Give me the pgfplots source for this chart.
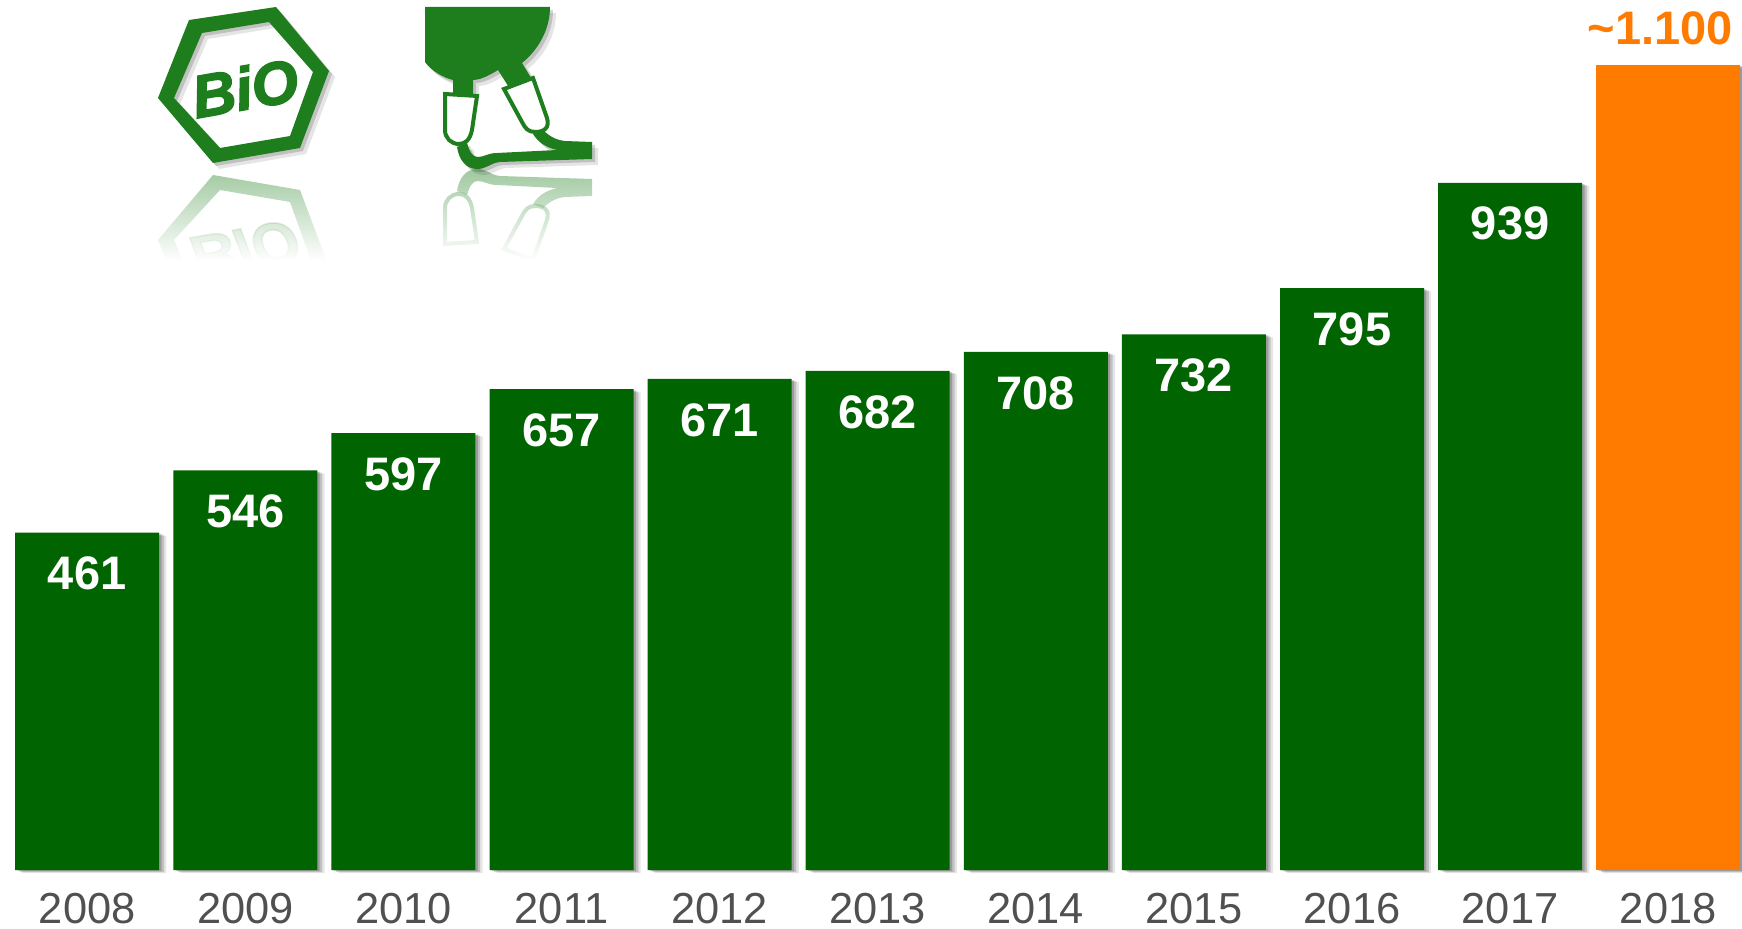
\documentclass[border=0pt]{standalone}
\usepackage{fontspec}
\setmainfont{Liberation Sans}
\newfontfamily\biofont[BoldItalicFeatures={FakeBold=2.5}]{Liberation Sans}
\usepackage{pgfplots}
\usepackage{pgfplotstable}
\pgfplotsset{compat=1.18}
\usetikzlibrary{fadings}
\definecolor{BarGreen}{HTML}{006400}
\definecolor{BarOrange}{HTML}{FF7B00}
\definecolor{IconGreen}{HTML}{1E7E1E}
\definecolor{YearGray}{HTML}{505050}
\tikzfading[name=towhite,top color=transparent!100,bottom color=transparent!0]

\pgfplotstableread{
x y
0 461
1 546
2 597
3 657
4 671
5 682
6 708
7 732
8 795
9 939
}\greenbars
\pgfplotstableread{
x y
10 1100
}\orangebar
\pgfplotstableread{
x y
0 461
1 546
2 597
3 657
4 671
5 682
6 708
7 732
8 795
9 939
10 1100
}\allbars

% icon outlines, in pixels of the reference
\newcommand\hexpath{(189,20)--(276,7)--(329,71)--(300,148)--(213,163)--(158,98)--cycle (202,33)--(269,22)--(313,72)--(290,136)--(220,148)--(174,98)--cycle}
\newcommand\bowlpath{(425,7)--(550,7) .. controls (550,30) and (538,50) .. (522,63)--(531,78)--(510,89)--(498,70) .. controls (485,78) and (478,80) .. (473,80)--(473,96)--(453,96)--(453,80) .. controls (445,78) and (432,72) .. (425,62)--cycle}
\newcommand\footpath{(457,147) .. controls (459,160) and (466,169) .. (477,169) .. controls (487,169) and (490,163) .. (500,162)--(592,159)--(592,142)--(565,141) .. controls (555,140) and (548,135) .. (543,130)--(533,134) .. controls (538,142) and (545,147) .. (557,150)--(497,153) .. controls (488,153) and (484,157) .. (478,157) .. controls (472,157) and (470,152) .. (467,143)--cycle}
\newcommand\cupA{(445,94)--(477,96)--(472,130) .. controls (470,140) and (465,144) .. (459,144) .. controls (451,144) and (445,138) .. (445,130)--cycle}
\newcommand\cupB{(504,89)--(533,78)--(547,118) .. controls (550,128) and (544,132) .. (535,132) .. controls (528,132) and (525,128) .. (522,122)--cycle}

\begin{document}
\begin{tikzpicture}
\useasboundingbox (0,-29pt) rectangle (871pt,435pt);

\begin{scope}[shift={(0,435pt)},x=0.5pt,y=-0.5pt]
  % reflection, faded into white below
  \begin{scope}[shift={(0,338)},yscale=-1,opacity=0.42]
    \fill[even odd rule,IconGreen] \hexpath;
    \fill[IconGreen] \footpath;
    \draw[line width=2pt,draw=IconGreen] \cupA;
    \draw[line width=2pt,draw=IconGreen] \cupB;
    \node[text=IconGreen,rotate=10,font=\fontsize{30}{30}\selectfont\biofont\bfseries\itshape,inner sep=0pt,yscale=-1] at (245,88) {BiO};
  \end{scope}
  \fill[white,path fading=towhite] (130,170) rectangle (620,260);
  \fill[white] (130,260) rectangle (620,345);

  % soft shadow of the icons
  \begin{scope}[shift={(6,6)},opacity=0.10]
    \fill[even odd rule,black] \hexpath;
    \fill[black] \bowlpath;
    \fill[black] \footpath;
  \end{scope}
  \begin{scope}[shift={(3,3)},opacity=0.16]
    \fill[even odd rule,black] \hexpath;
    \fill[black] \bowlpath;
    \fill[black] \footpath;
  \end{scope}
  \fill[even odd rule,IconGreen] \hexpath;
  \fill[IconGreen] \bowlpath;
  \fill[IconGreen] \footpath;
  \draw[line width=2pt,draw=IconGreen,fill=white] \cupA;
  \draw[line width=2pt,draw=IconGreen,fill=white] \cupB;
  \node[text=IconGreen,rotate=10,font=\fontsize{30}{30}\selectfont\biofont\bfseries\itshape,inner sep=0pt] at (245,88) {BiO};
\end{scope}

\begin{axis}[
  at={(0,0)},anchor=south west,
  scale only axis,width=871pt,height=435pt,
  clip=false,
  xmin=-0.5516,xmax=10.4667,ymin=0,ymax=1188.8,
  axis line style={draw=none},
  major tick length=0pt,
  ytick=\empty,
  xtick={0,1,2,3,4,5,6,7,8,9,10},
  xticklabels={2008,2009,2010,2011,2012,2013,2014,2015,2016,2017,2018},
  xticklabel style={font=\fontsize{21.7}{21.7}\selectfont,text=YearGray,anchor=base,yshift=-26.5pt},
  ybar,bar width=72pt,
  /pgf/number format/assume math mode=true,
  /pgf/number format/1000 sep={},
]
\addplot[bar shift=0pt,fill=black,draw=none,opacity=0.20,xshift=1.2pt,yshift=-0.6pt,forget plot] table[x=x,y=y] {\allbars};
\addplot[bar shift=0pt,fill=black,draw=none,opacity=0.16,xshift=2.4pt,yshift=-1.1pt,forget plot] table[x=x,y=y] {\allbars};
\addplot[bar shift=0pt,fill=black,draw=none,opacity=0.10,xshift=3.6pt,yshift=-1.6pt,forget plot] table[x=x,y=y] {\allbars};
\addplot[bar shift=0pt,fill=BarGreen,draw=none,
  nodes near coords,
  every node near coord/.append style={font=\fontsize{23.5}{23.5}\selectfont\bfseries,text=white,anchor=center,yshift=-20.5pt}]
  table[x=x,y=y] {\greenbars};
\addplot[bar shift=0pt,fill=BarOrange,draw=none,
  nodes near coords={\textasciitilde 1.100},
  every node near coord/.append style={font=\fontsize{23.5}{23.5}\selectfont\bfseries,text=BarOrange,anchor=center,xshift=-4pt,yshift=18.5pt}]
  table[x=x,y=y] {\orangebar};
\end{axis}
\end{tikzpicture}
\end{document}
